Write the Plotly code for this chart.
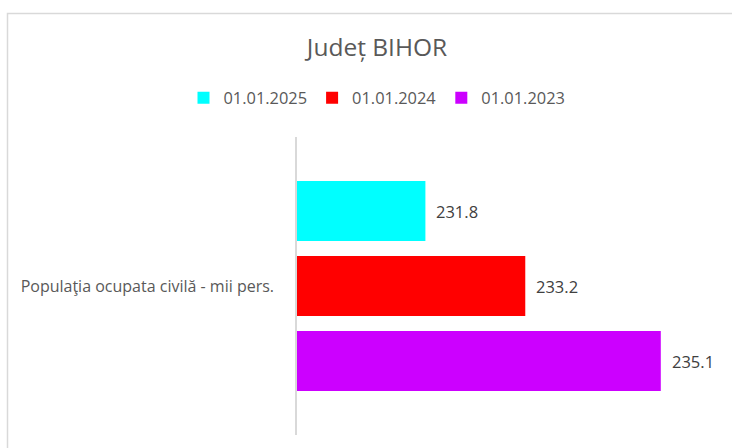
import plotly.graph_objects as go

categories = ["Populaţia ocupata civilă - mii pers."]
series_names = ["01.01.2023", "01.01.2024", "01.01.2025"]
series_values = [[235.1], [233.2], [231.8]]
series_colors = ["#CC00FF", "#FF0000", "#00FFFF"]
title_text = "Județ BIHOR"

FONT = "Open Sans, sans-serif"
TEXT_COLOR = "#595959"

fig = go.Figure()
for name, vals, col in zip(series_names, series_values, series_colors):
    fig.add_trace(go.Bar(
        y=categories, x=vals, name=name, orientation="h",
        marker=dict(color=col, line=dict(width=0)),
        hoverinfo="skip",
    ))

# value labels
shifts = [-75, 0, 75]
for vals, ys in zip(series_values, shifts):
    for cat, v in zip(categories, vals):
        fig.add_annotation(
            x=v, y=cat, text=f"{v:.1f}", showarrow=False,
            xanchor="left", yanchor="middle", xshift=9, yshift=ys,
            font=dict(family=FONT, size=16.5, color="#404040"),
        )

W, H = 732, 448
L = 297
T = 137
R = W - 725
B = H - 435
pw, ph = W - L - R, H - T - B

def px_x(sx):
    return (sx - L) / pw

def px_y(sy):
    return (H - B - sy) / ph

fig.add_shape(type="rect", xref="paper", yref="paper",
              x0=px_x(7.5), x1=3, y0=-1, y1=px_y(13.5),
              line=dict(color="#D9D9D9", width=1.5), fillcolor="rgba(0,0,0,0)", layer="below")

fig.update_layout(
    width=W, height=H,
    margin=dict(l=L, r=R, t=T, b=B),
    paper_bgcolor="white", plot_bgcolor="white",
    barmode="group", bargap=0.245, bargroupgap=0.2,
    title=dict(text=title_text, x=px_x(377), xref="paper", xanchor="center",
               y=1 - 47 / H, yref="container", yanchor="middle",
               font=dict(family=FONT, size=24.5, color=TEXT_COLOR)),
    legend=dict(orientation="h", traceorder="reversed",
                x=px_x(377), xanchor="center",
                y=px_y(98), yanchor="middle",
                font=dict(family=FONT, size=16.4, color=TEXT_COLOR),
                itemwidth=30, tracegroupgap=0),
    xaxis=dict(range=[230, 236], showticklabels=False, showgrid=False,
               zeroline=False, showline=False, ticks=""),
    yaxis=dict(showline=True, linecolor="#D9D9D9", linewidth=1.5,
               showgrid=False, ticks="", ticklabelstandoff=18,
               tickfont=dict(family=FONT, size=16, color=TEXT_COLOR)),
    showlegend=True,
)

fig.write_html(
    "out.html",
    config={"displayModeBar": False},
    post_script="document.body.style.margin='0';document.body.style.overflow='hidden';",
)
